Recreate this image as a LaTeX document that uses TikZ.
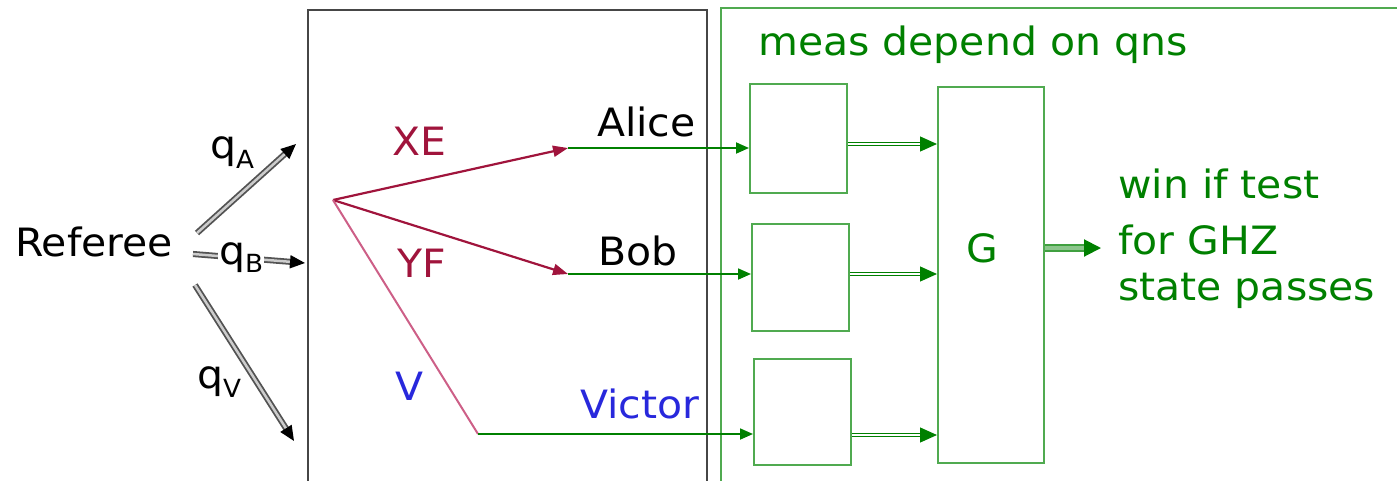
\documentclass[tikz,border=0pt]{standalone}
\usepackage{fontspec}
\setmainfont{DejaVu Sans}[FakeStretch=1.05]
\usetikzlibrary{arrows.meta,calc}
\definecolor{dgreen}{RGB}{0,128,0}
\definecolor{bgreen}{RGB}{80,170,80}
\definecolor{crim}{RGB}{160,20,60}
\definecolor{pinkl}{RGB}{205,95,135}
\definecolor{vblue}{RGB}{40,40,220}
\definecolor{framec}{RGB}{70,70,70}
\newcommand{\qsub}[2]{q\raisebox{-#2pt}{\fontsize{25}{25}\selectfont #1}}
\begin{document}
\begin{tikzpicture}[x=1pt,y=-1pt,
  txt/.style={font=\fontsize{39}{46}\selectfont, inner sep=0pt, anchor=base west},
  mbox/.style={draw=bgreen, line width=2pt, inner sep=0pt, minimum width=97pt},
  grayarr/.style={draw=gray!65!black, line width=1.8pt, double=gray!40, double distance=2.5pt, -{Triangle[length=15pt,width=13pt,fill=black,color=black]}},
  redarr/.style={draw=crim, line width=2.2pt, -{Triangle[length=15pt,width=11pt]}},
  grnline/.style={draw=dgreen, line width=1.8pt, -{Triangle[length=13pt,width=11pt]}},
  dblarr/.style={draw=dgreen, line width=1.2pt, double=white, double distance=2pt, -{Triangle[length=17pt,width=15pt,fill=dgreen,color=dgreen]}},
  outarr/.style={draw=dgreen!75, line width=2pt, double=dgreen!45, double distance=3.5pt, -{Triangle[length=17pt,width=17pt,fill=dgreen,color=dgreen]}}
]
\useasboundingbox (0,0) rectangle (1397,480);
% frames
\draw[framec, line width=2pt] (308,500) -- (308,10) -- (707,10) -- (707,500);
\draw[bgreen, line width=2pt] (721,500) -- (721,8) -- (1410,8);

% texts
\node[txt] (ref) at (15,256) {Referee};
\node[txt, text=dgreen] (meas) at (758,55) {meas depend on qns};
\node[txt, text=crim] (xe) at (392,155) {XE};
\node[txt, text=crim] (yf) at (397,277) {YF};
\node[txt, text=vblue] (vv) at (395,400) {V};
\node[txt] (alice) at (597,136) {Alice};
\node[txt] (bob) at (598,265) {Bob};
\node[txt, text=vblue] (victor) at (580,418) {Victor};
\node[txt, text=dgreen] (win1) at (1118,198) {win if test};
\node[txt, text=dgreen] (win2) at (1118,254) {for GHZ};
\node[txt, text=dgreen] (win3) at (1118,300) {state passes};

% boxes
\node[mbox, minimum height=109pt] (b1) at (798.5,138.5) {};
\node[mbox, minimum height=107pt] (b2) at (800.5,277.5) {};
\node[mbox, minimum height=106pt] (b3) at (802.5,412) {};
\node[mbox, minimum width=106pt, minimum height=376pt] (gb) at (991,275) {};
\node[txt, text=dgreen] (g) at (966,262) {G};

% referee arrows
\coordinate (ra0) at (197,233); \coordinate (ra1) at (296,144);
\coordinate (rb0) at (193,254); \coordinate (rb1) at (305,263);
\coordinate (rv0) at (195,285); \coordinate (rv1) at (294,441);
\draw[grayarr] (ra0) -- (ra1);
\draw[grayarr] (rb0) -- (rb1);
\draw[grayarr] (rv0) -- (rv1);
\node[txt] (qa) at (210,158) {\qsub{A}{10}};
\node[txt, fill=white, inner sep=1pt] (qb) at (218,264) {\qsub{B}{8}};
\node[txt] (qv) at (197,388) {\qsub{V}{9}};

% red fan
\coordinate (src) at (333,200);
\coordinate (aT) at (568,148);
\coordinate (bT) at (568,274);
\coordinate (vT) at (478,434);
\draw[redarr] (src) -- (aT);
\draw[redarr] (src) -- (bT);
\draw[pinkl, line width=2pt] (src) -- (vT);

% green inputs
\draw[grnline] (aT) -- (aT -| b1.west);
\draw[grnline] (bT) -- (bT -| b2.west);
\draw[grnline] (vT) -- (vT -| b3.west);

% double arrows into G
\coordinate (d1) at (0,144);
\coordinate (d2) at (0,274);
\coordinate (d3) at (0,435);
\draw[dblarr] (d1 -| b1.east) -- (d1 -| gb.west);
\draw[dblarr] (d2 -| b2.east) -- (d2 -| gb.west);
\draw[dblarr] (d3 -| b3.east) -- (d3 -| gb.west);

% output
\coordinate (oT) at (1101,248);
\draw[outarr] (oT -| gb.east) -- (oT);
\end{tikzpicture}
\end{document}
